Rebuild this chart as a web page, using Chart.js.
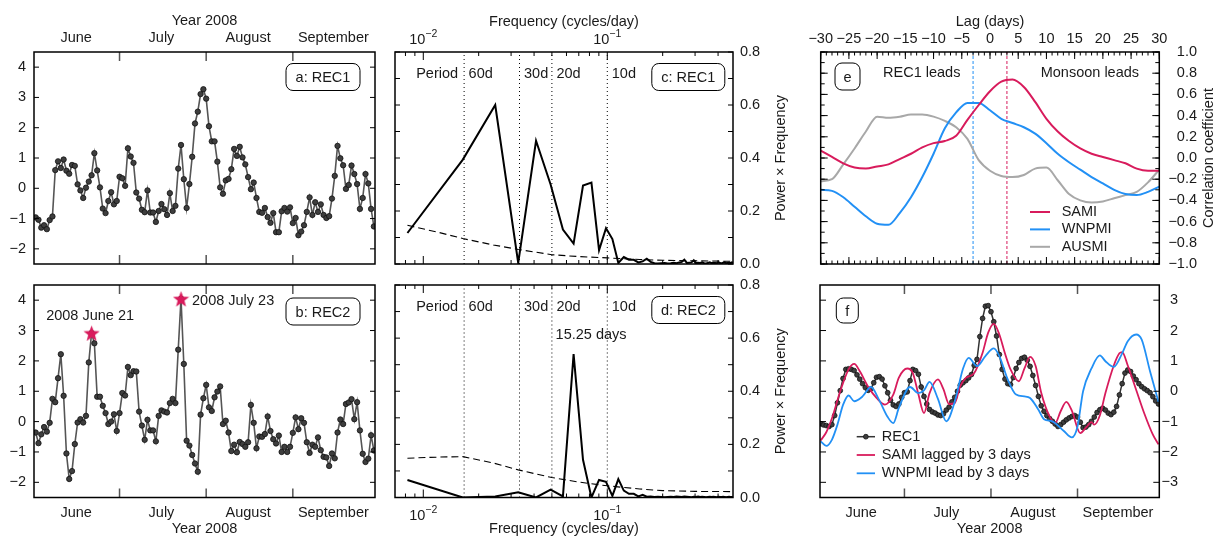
<!DOCTYPE html>
<html>
<head>
<meta charset="utf-8">
<script src="https://cdn.jsdelivr.net/npm/chart.js@4.4.0/dist/chart.umd.min.js"></script>
<style>
  body { margin: 0; background: #fff; width: 1213px; height: 538px; position: relative; overflow: hidden; }
  canvas { position: absolute; }
</style>
</head>
<body>
<canvas id="pa" style="left:0;top:0" width="400" height="272"></canvas>
<canvas id="pb" style="left:0;top:270px" width="400" height="268"></canvas>
<canvas id="pc" style="left:385px;top:0" width="420" height="274"></canvas>
<canvas id="pd" style="left:385px;top:270px" width="420" height="268"></canvas>
<canvas id="pe" style="left:800px;top:0" width="413" height="274"></canvas>
<canvas id="pf" style="left:800px;top:270px" width="413" height="268"></canvas>
<script>
// ---- data ----
// day index 0 = 2008 June 1
const monthNames = ['June', 'July', 'August', 'September'];
const monthMid = [14.5, 45, 76, 106.5];
const monthStart = [30, 61, 92];
const days = Array.from({ length: 122 }, (_, i) => i);

const recA = [-0.96,-1.04,-1.30,-1.22,-1.35,-1.05,-0.93,0.60,0.89,0.67,0.95,0.58,0.48,0.77,0.74,0.13,-0.07,-0.32,0.02,0.22,
  0.43,1.16,0.59,0.03,-0.67,-0.82,-0.42,-0.13,-0.53,-0.42,0.38,0.33,0.08,1.32,1.05,0.84,-0.14,-0.34,-0.71,-0.79,
  -0.07,-0.80,-0.80,-1.11,-0.75,-0.52,-0.69,-0.88,-0.16,-0.75,-0.58,0.65,1.43,0.30,-0.65,0.14,1.04,2.14,2.53,3.11,
  3.27,2.96,2.05,1.55,1.55,0.88,0.03,-0.18,0.26,0.31,0.63,1.30,1.07,1.37,1.02,0.79,0.37,-0.03,0.19,-0.32,
  -0.78,-0.81,-0.65,-0.95,-1.14,-0.82,-1.45,-1.45,-0.76,-0.65,-0.77,-0.63,-1.15,-0.98,-1.55,-1.43,-1.22,-0.78,-0.30,-0.88,
  -0.46,-0.78,-0.53,-0.88,-0.98,-0.92,-0.34,0.41,1.40,0.99,0.76,-0.02,0.11,0.75,0.47,0.14,-0.68,-0.32,0.47,0.16,
  -0.68,-1.26];

const recB = [-0.36,-0.71,-0.42,-0.18,-0.33,-0.04,0.75,0.64,1.43,2.22,0.85,-1.05,-1.89,-1.63,-0.74,-0.03,0.08,-0.03,0.19,1.95,
  2.92,2.58,0.82,0.82,0.52,0.28,-0.08,0.00,0.24,-0.31,0.28,0.94,0.86,1.80,1.53,1.66,1.65,0.33,-0.13,-0.60,
  0.06,-0.29,-0.29,-0.65,0.19,0.37,0.33,0.30,0.61,0.75,0.61,2.37,4.05,1.90,-0.63,-0.79,-1.10,-1.38,-1.65,0.23,
  0.77,1.21,0.47,0.35,0.80,0.99,1.16,-0.08,0.03,-0.36,-0.97,-0.76,-1.01,-0.67,-0.74,-0.83,-0.68,0.55,-0.04,-0.88,
  -0.49,-0.50,-0.41,0.17,-0.31,-0.58,-0.72,-0.46,-1.00,-0.83,-1.00,-0.83,-0.37,0.14,-0.25,0.11,-0.04,-0.68,-1.03,-0.76,
  -0.83,-0.52,-0.94,-1.16,-1.18,-1.46,-1.05,-1.21,-0.36,0.07,-0.08,0.58,0.63,0.74,0.08,0.64,-0.29,-1.06,-1.33,-1.22,
  -0.45,-0.95];
const starDays = [20, 52];
const starVals = [2.92, 4.05];
const starNotes = ['2008 June 21', '2008 July 23'];

// spectra: frequencies k/122 (cycles/day)
const freqs = [0.0082,0.0164,0.0246,0.0328,0.0410,0.0492,0.0574,0.0656,0.0738,0.0820,0.0902,0.0984,0.1066,0.1148,0.1230,
  0.1311,0.1393,0.1475,0.1557,0.1639,0.1721,0.1803,0.1885,0.1967,0.2049,0.2131,0.2213,0.2295,0.2377,0.2459,
  0.2541,0.2623,0.2705,0.2787,0.2869,0.2951,0.3033,0.3115,0.3197,0.3279,0.3361,0.3443,0.3525,0.3607,0.3689,
  0.3770,0.3852,0.3934,0.4016,0.4098,0.4180,0.4262,0.4344,0.4426,0.4508,0.4590,0.4672,0.4754,0.4836,0.4918,0.5000];
const powC = [0.117,0.394,0.600,0.004,0.465,0.300,0.130,0.077,0.296,0.307,
  0.052,0.135,0.094,0.004,0.026,0.016,0.016,0.006,0.010,0.020,
  0.008,0.003,0.002,0.003,0.004,0.002,0.003,0.005,0.003,0.006,
  0.008,0.016,0.004,0.005,0.006,0.014,0.003,0.005,0.004,0.006,
  0.003,0.002,0.004,0.006,0.003,0.005,0.004,0.003,0.006,0.004,
  0.002,0.005,0.006,0.003,0.004,0.005,0.003,0.006,0.004,0.005,0.003];
const powD = [0.066,0.000,0.004,0.020,0.000,0.030,0.004,0.540,0.142,0.000,
  0.066,0.059,0.006,0.069,0.026,0.014,0.014,0.004,0.010,0.003,
  0.004,0.002,0.003,0.002,0.001,0.002,0.003,0.002,0.004,0.003,
  0.002,0.004,0.003,0.002,0.001,0.003,0.002,0.004,0.002,0.003,
  0.002,0.001,0.002,0.003,0.002,0.003,0.002,0.001,0.003,0.002,
  0.002,0.003,0.002,0.001,0.002,0.003,0.002,0.002,0.001,0.002,0.003];
const noiseFreq = [0.0082,0.012,0.0164,0.024,0.0328,0.05,0.07,0.1,0.15,0.2,0.3,0.5];
const noiseC = [0.146,0.120,0.096,0.072,0.055,0.035,0.028,0.023,0.017,0.014,0.012,0.010];
const noiseD = [0.148,0.152,0.154,0.130,0.104,0.075,0.058,0.044,0.032,0.026,0.023,0.022];
const periods = [60, 30, 20, 10];
const periodNames = ['60d', '30d', '20d', '10d'];

// lag correlations
const lags = [-30,-28,-26,-24,-22,-20,-18,-16,-14,-12,-10,-8,-6,-4,-2,0,2,4,6,8,10,12,14,16,18,20,22,24,26,28,30];
const sami  = [0.07,0.01,-0.05,-0.09,-0.10,-0.08,-0.06,-0.01,0.04,0.10,0.14,0.16,0.21,0.36,0.50,0.63,0.72,0.74,0.67,0.53,
  0.37,0.25,0.16,0.09,0.04,0.01,-0.02,-0.05,-0.10,-0.12,-0.12];
const wnpmi = [-0.30,-0.31,-0.37,-0.46,-0.55,-0.62,-0.63,-0.52,-0.37,-0.18,0.04,0.28,0.43,0.52,0.52,0.45,0.37,0.33,0.29,0.23,
  0.14,0.04,-0.04,-0.11,-0.18,-0.24,-0.30,-0.34,-0.35,-0.32,-0.27];
const ausmi = [-0.22,-0.20,-0.06,0.09,0.25,0.39,0.38,0.39,0.41,0.41,0.39,0.35,0.29,0.18,-0.02,-0.12,-0.17,-0.18,-0.16,-0.10,
  -0.09,-0.21,-0.34,-0.40,-0.42,-0.41,-0.38,-0.35,-0.32,-0.23,-0.11];
const bestLags = [-3, 3];

// smoothed series
const recF = [-1.07,-1.11,-1.13,-1.16,-1.10,-0.80,-0.38,0.02,0.42,0.72,
  0.74,0.72,0.68,0.54,0.40,0.25,0.12,0.03,0.08,0.28,
  0.46,0.48,0.40,0.18,-0.05,-0.30,-0.45,-0.50,-0.42,-0.20,
  -0.05,-0.02,0.35,0.72,0.68,0.56,0.14,-0.17,-0.42,-0.60,
  -0.68,-0.72,-0.78,-0.80,-0.74,-0.62,-0.52,-0.35,-0.20,0.00,
  0.20,0.28,0.35,0.44,0.55,0.85,1.05,1.80,2.40,2.80,
  2.82,2.62,2.29,1.82,1.21,0.72,0.40,0.25,0.22,0.45,
  0.75,0.95,1.08,1.12,1.02,0.82,0.52,0.19,-0.17,-0.48,
  -0.66,-0.80,-0.90,-0.99,-1.08,-1.16,-1.10,-1.02,-0.94,-0.88,
  -0.83,-0.80,-0.85,-1.02,-1.20,-1.18,-1.10,-0.99,-0.85,-0.70,
  -0.61,-0.56,-0.62,-0.72,-0.77,-0.69,-0.50,-0.12,0.25,0.60,
  0.70,0.65,0.50,0.38,0.25,0.15,0.08,0.02,-0.05,-0.18,
  -0.32,-0.42];
const samiDaysF = [0,2,4,7,10,12,14,17,20,23,26,28,31,33,35,37,39,42,44,46,48,50,52,55,58,60,62,64,66,68,71,73,75,77,79,82,84,86,88,90,93,95,97,98,100,102,105,107,108,110,113,116,119,121];
const samiF = [-1.62,-1.35,-0.90,0.00,0.72,0.90,0.66,0.15,-0.22,-0.44,-0.11,0.45,0.75,0.60,-0.10,-0.72,-0.06,0.39,0.06,-0.42,-0.39,0.17,0.44,0.60,1.27,1.93,2.22,1.87,1.25,0.72,0.33,0.75,1.13,0.83,-0.05,-0.83,-1.05,-0.65,-0.35,-0.65,-1.38,-1.20,-1.02,-1.10,-0.80,-0.06,0.85,1.25,1.29,0.85,0.05,-0.75,-1.43,-1.75];
const wnpmiDaysF = [0,2,4,6,8,10,12,15,18,21,24,26,28,32,35,37,39,42,45,48,51,53,56,59,62,64,67,70,73,75,78,80,83,87,90,92,94,97,100,102,105,108,110,113,115,118,121];
const wnpmiF = [-1.65,-1.80,-1.60,-1.10,-0.45,-0.14,-0.33,-0.17,0.14,-0.30,-0.85,-1.05,-0.55,0.14,-0.06,0.03,0.31,-0.25,-0.99,-0.35,0.75,1.10,0.83,1.16,1.41,1.16,0.39,-0.11,-0.17,-0.22,-0.61,-0.92,-0.99,-1.30,-1.52,-1.16,0.00,0.75,1.18,0.99,0.80,1.25,1.65,1.87,1.70,0.65,-0.35];

// ---- style ----
const FONT = "'Liberation Sans', Arial, Helvetica, sans-serif";
const RED = '#d81b5c';
const BLUE = '#2290f5';
const GRAY = '#a8a8a8';
Chart.defaults.font.family = FONT;
Chart.defaults.font.size = 14.5;
Chart.defaults.color = '#1a1a1a';
Chart.defaults.animation = false;
Chart.defaults.responsive = false;
Chart.defaults.events = [];
Chart.defaults.plugins.legend.display = false;
Chart.defaults.plugins.tooltip.enabled = false;

function fmt(v, n) {
  return (v < -1e-9 ? '\u2212' : '') + Math.abs(v).toFixed(n);
}
// fixed axis thickness; drop the label overhang padding so the plot box stays put
function fixSize(px) {
  return s => {
    if (s.isHorizontal()) s.height = px; else s.width = px;
    s.paddingTop = s.paddingBottom = s.paddingLeft = s.paddingRight = 0;
  };
}
function setTicks(vals) {
  return s => { s.ticks = vals.map(v => ({ value: v })); };
}
function xy(xs, ys) {
  return xs.map((x, i) => ({ x: x, y: ys[i] }));
}
function range(a, b, step) {
  const out = [];
  for (let v = a; v <= b + 1e-9; v += step) out.push(Math.round(v * 1000) / 1000);
  return out;
}
function makeStar(size, color) {
  const c = document.createElement('canvas');
  c.width = size; c.height = size;
  const g = c.getContext('2d');
  const R = size / 2, r = R * 0.42;
  g.beginPath();
  for (let i = 0; i < 10; i++) {
    const ang = -Math.PI / 2 + i * Math.PI / 5;
    const rad = i % 2 ? r : R;
    g.lineTo(R + rad * Math.cos(ang), R + 1 + rad * Math.sin(ang));
  }
  g.closePath();
  g.fillStyle = color;
  g.fill();
  return c;
}
function roundBox(ctx, x, y, w, h, r) {
  ctx.beginPath();
  ctx.moveTo(x + r, y);
  ctx.arcTo(x + w, y, x + w, y + h, r);
  ctx.arcTo(x + w, y + h, x, y + h, r);
  ctx.arcTo(x, y + h, x, y, r);
  ctx.arcTo(x, y, x + w, y, r);
  ctx.closePath();
}

// frame, inward ticks, annotations, legends
const deco = {
  id: 'deco',
  afterDatasetsDraw(chart, args, o) {
    const ctx = chart.ctx, a = chart.chartArea;
    const sx = chart.scales.x, sy = chart.scales.y;
    ctx.save();
    (o.ticks || []).forEach(t => {
      const sc = chart.scales[t.axis];
      ctx.strokeStyle = t.color || '#000';
      ctx.lineWidth = t.width || 1;
      ctx.beginPath();
      t.values.forEach(v => {
        const p = sc.getPixelForValue(v);
        if (t.axis === 'x') {
          ctx.moveTo(p, a.top); ctx.lineTo(p, a.top + t.len);
          ctx.moveTo(p, a.bottom); ctx.lineTo(p, a.bottom - t.len);
        } else {
          ctx.moveTo(a.left, p); ctx.lineTo(a.left + t.len, p);
          ctx.moveTo(a.right, p); ctx.lineTo(a.right - t.len, p);
        }
      });
      ctx.stroke();
    });
    ctx.strokeStyle = '#000';
    ctx.lineWidth = 1.5;
    ctx.strokeRect(a.left, a.top, a.right - a.left, a.bottom - a.top);

    ctx.fillStyle = '#1a1a1a';
    ctx.font = '14.5px ' + FONT;
    ctx.textBaseline = 'middle';
    (o.texts || []).forEach(t => {
      ctx.textAlign = t.align || 'left';
      ctx.fillText(t.text, sx.getPixelForValue(t.x) + (t.dx || 0), sy.getPixelForValue(t.y) + (t.dy || 0));
    });
    (o.boxes || []).forEach(b => {
      roundBox(ctx, b.cx - b.w / 2, b.cy - b.h / 2, b.w, b.h, 7);
      ctx.lineWidth = 1;
      ctx.strokeStyle = '#000';
      ctx.stroke();
      ctx.textAlign = 'center';
      ctx.fillText(b.text, b.cx, b.cy + 1);
    });
    if (o.legend) {
      const L = o.legend;
      L.items.forEach((idx, i) => {
        const ds = chart.data.datasets[idx];
        const y = L.y + i * L.dy;
        ctx.strokeStyle = ds.borderColor;
        ctx.lineWidth = ds.borderWidth;
        ctx.beginPath();
        ctx.moveTo(L.x, y); ctx.lineTo(L.x + L.len, y);
        ctx.stroke();
        if (ds.pointRadius) {
          ctx.beginPath();
          ctx.arc(L.x + L.len / 2, y, ds.pointRadius, 0, Math.PI * 2);
          ctx.fillStyle = ds.pointBackgroundColor;
          ctx.fill();
          ctx.lineWidth = ds.pointBorderWidth;
          ctx.strokeStyle = ds.pointBorderColor;
          ctx.stroke();
        }
        ctx.fillStyle = '#1a1a1a';
        ctx.textAlign = 'left';
        ctx.fillText(ds.label, L.x + L.len + L.gap, y);
      });
    }
    if (o.vtitle) {
      ctx.save();
      ctx.translate(o.vtitle.x, (a.top + a.bottom) / 2);
      ctx.rotate(-Math.PI / 2);
      ctx.textAlign = 'center';
      ctx.fillText(o.vtitle.text, 0, 0);
      ctx.restore();
    }
    if (o.logLabels) {
      const g = o.logLabels;
      g.values.forEach((v, i) => {
        const p = sx.getPixelForValue(v);
        ctx.font = '14.5px ' + FONT;
        const w1 = ctx.measureText('10').width;
        ctx.font = '10.5px ' + FONT;
        const w2 = ctx.measureText(g.sups[i]).width;
        const x0 = p - (w1 + w2) / 2;
        ctx.textAlign = 'left';
        ctx.font = '14.5px ' + FONT;
        ctx.fillText('10', x0, g.y);
        ctx.font = '10.5px ' + FONT;
        ctx.fillText(g.sups[i], x0 + w1, g.y - 6);
      });
    }
    ctx.restore();
  }
};

const noGrid = { display: false, drawTicks: false };
const noBorder = { display: false };
const recStyle = {
  borderColor: '#555', borderWidth: 1.6, pointRadius: 2.7,
  pointBackgroundColor: '#3e3e3e', pointBorderColor: '#111', pointBorderWidth: 0.8, tension: 0
};
const recTicks = [
  { axis: 'x', values: monthStart, len: 9, color: '#555', width: 1.5 },
  { axis: 'y', values: range(-2, 4, 1), len: 5 }
];

// ---- panel a ----
new Chart(document.getElementById('pa'), {
  type: 'line',
  data: { datasets: [Object.assign({ label: 'REC1', data: xy(days, recA) }, recStyle)] },
  options: {
    layout: { padding: { right: 25, bottom: 8 } },
    scales: {
      x: {
        type: 'linear', position: 'top', min: -0.6, max: 121.4,
        afterFit: fixSize(52), afterBuildTicks: setTicks(monthMid),
        grid: noGrid, border: noBorder,
        ticks: { padding: 5, maxRotation: 0, autoSkip: false, callback: (v, i) => monthNames[i] },
        title: { display: true, text: 'Year 2008', padding: { top: 12, bottom: 0 } }
      },
      y: {
        min: -2.5, max: 4.5, afterFit: fixSize(34), afterBuildTicks: setTicks(range(-2, 4, 1)),
        grid: noGrid, border: noBorder,
        ticks: { padding: 8, callback: v => fmt(v, 0) }
      }
    },
    plugins: {
      deco: { ticks: recTicks, boxes: [{ text: 'a: REC1', cx: 323, cy: 77, w: 74, h: 27 }] }
    }
  },
  plugins: [deco]
});

// ---- panel b ----
new Chart(document.getElementById('pb'), {
  type: 'line',
  data: {
    datasets: [
      Object.assign({ label: 'REC2', data: xy(days, recB), order: 1 }, recStyle),
      { label: 'peaks', data: xy(starDays, starVals), showLine: false, order: 0,
        pointStyle: makeStar(17, RED), pointRadius: 8 }
    ]
  },
  options: {
    layout: { padding: { right: 25, top: 15 } },
    scales: {
      x: {
        type: 'linear', position: 'bottom', min: -0.6, max: 121.4,
        afterFit: fixSize(40.5), afterBuildTicks: setTicks(monthMid),
        grid: noGrid, border: noBorder,
        ticks: { padding: 6.8, maxRotation: 0, autoSkip: false, callback: (v, i) => monthNames[i] },
        title: { display: true, text: 'Year 2008', padding: { top: 0, bottom: 0.3 } }
      },
      y: {
        min: -2.5, max: 4.5, afterFit: fixSize(34), afterBuildTicks: setTicks(range(-2, 4, 1)),
        grid: noGrid, border: noBorder,
        ticks: { padding: 8, callback: v => fmt(v, 0) }
      }
    },
    plugins: {
      deco: {
        ticks: recTicks,
        boxes: [{ text: 'b: REC2', cx: 323, cy: 41.5, w: 74, h: 27 }],
        texts: [
          { text: starNotes[0], x: starDays[0], y: starVals[0], align: 'center', dx: -1.5, dy: -17 },
          { text: starNotes[1], x: starDays[1], y: starVals[1], align: 'left', dx: 11, dy: 2 }
        ]
      }
    }
  },
  plugins: [deco]
});

// ---- panels c, d ----
const logMin = 0.007018, logMax = 0.4822;
const logTickMarks = [
  { axis: 'x', values: [0.01, 0.1], len: 8 },
  { axis: 'x', values: [0.008, 0.009, 0.02, 0.03, 0.04, 0.05, 0.06, 0.07, 0.08, 0.09, 0.2, 0.3, 0.4], len: 4 },
  { axis: 'y', values: range(0, 0.8, 0.1), len: 5 }
];
function periodSets() {
  return periods.map(p => ({
    data: [{ x: 1 / p, y: 0 }, { x: 1 / p, y: 0.8 }],
    borderColor: '#000', borderWidth: 1, borderDash: [1, 3], pointRadius: 0
  }));
}
function periodTexts() {
  const t = [{ text: 'Period', x: 1 / periods[0], y: 0.717, align: 'right', dx: -6 }];
  periods.forEach((p, i) => t.push({ text: periodNames[i], x: 1 / p, y: 0.717, align: 'left', dx: 4.5 }));
  return t;
}
function spectrumChart(id, pow, noise, top, label, extraTexts, boxCy) {
  const xAxis = {
    type: 'logarithmic', position: top ? 'top' : 'bottom', min: logMin, max: logMax,
    afterFit: fixSize(top ? 52 : 40.5), afterBuildTicks: setTicks([0.01, 0.1]),
    grid: noGrid, border: noBorder, ticks: { display: false },
    title: { display: true, text: 'Frequency (cycles/day)', padding: top ? { top: 13, bottom: 0 } : { top: 0, bottom: 0 } }
  };
  return new Chart(document.getElementById(id), {
    type: 'line',
    data: {
      datasets: [
        { data: xy(freqs, pow), borderColor: '#000', borderWidth: 2, pointRadius: 0, tension: 0 },
        { data: xy(noiseFreq, noise), borderColor: '#000', borderWidth: 1.1, borderDash: [7, 4], pointRadius: 0, tension: 0 }
      ].concat(periodSets())
    },
    options: {
      layout: { padding: top ? { left: 10, bottom: 10 } : { left: 10, top: 15 } },
      scales: {
        x: xAxis,
        y: {
          position: 'right', min: 0, max: 0.8, afterFit: fixSize(72), afterBuildTicks: setTicks(range(0, 0.8, 0.2)),
          grid: noGrid, border: noBorder,
          ticks: { padding: 7, callback: v => fmt(v, 1) }
        }
      },
      plugins: {
        deco: {
          ticks: logTickMarks,
          texts: periodTexts().concat(extraTexts),
          boxes: [{ text: label, cx: 303.3, cy: boxCy, w: 73, h: 27 }],
          vtitle: { text: 'Power \u00d7 Frequency', x: 396 },
          logLabels: { values: [0.01, 0.1], sups: ['\u22122', '\u22121'], y: top ? 40 : 246 }
        }
      }
    },
    plugins: [deco]
  });
}
spectrumChart('pc', powC, noiseC, true, 'c: REC1', [], 77);
spectrumChart('pd', powD, noiseD, false, 'd: REC2',
  [{ text: '15.25 days', x: freqs[7], y: 0.612, align: 'left', dx: -18 }], 40);

// ---- panel e ----
new Chart(document.getElementById('pe'), {
  type: 'line',
  data: {
    datasets: [
      { label: 'SAMI', data: xy(lags, sami), borderColor: RED, borderWidth: 2, pointRadius: 0, cubicInterpolationMode: 'monotone' },
      { label: 'WNPMI', data: xy(lags, wnpmi), borderColor: BLUE, borderWidth: 2, pointRadius: 0, cubicInterpolationMode: 'monotone' },
      { label: 'AUSMI', data: xy(lags, ausmi), borderColor: GRAY, borderWidth: 2, pointRadius: 0, cubicInterpolationMode: 'monotone' },
      { data: [{ x: bestLags[0], y: -1 }, { x: bestLags[0], y: 1 }], borderColor: BLUE, borderWidth: 1, borderDash: [3, 2], pointRadius: 0 },
      { data: [{ x: bestLags[1], y: -1 }, { x: bestLags[1], y: 1 }], borderColor: RED, borderWidth: 1, borderDash: [3, 2], pointRadius: 0 }
    ]
  },
  options: {
    layout: { padding: { left: 20.7, bottom: 10, right: 16 } },
    scales: {
      x: {
        type: 'linear', position: 'top', min: -30, max: 30,
        afterFit: fixSize(52), afterBuildTicks: setTicks(range(-30, 30, 5)),
        grid: noGrid, border: noBorder,
        ticks: { padding: 4.3, maxRotation: 0, autoSkip: false, callback: v => fmt(v, 0) },
        title: { display: true, text: 'Lag (days)', padding: { top: 13, bottom: 0 } }
      },
      y: {
        position: 'right', min: -1, max: 1, afterFit: fixSize(37.7), afterBuildTicks: setTicks(range(-1, 1, 0.2)),
        grid: noGrid, border: noBorder,
        ticks: { padding: 8.7, crossAlign: 'far', callback: v => fmt(v, 1) }
      }
    },
    plugins: {
      deco: {
        ticks: [
          { axis: 'x', values: range(-30, 30, 1), len: 3.5 },
          { axis: 'x', values: range(-30, 30, 5), len: 7 },
          { axis: 'y', values: range(-1, 1, 0.1), len: 4 },
          { axis: 'y', values: range(-1, 1, 0.2), len: 7 }
        ],
        texts: [
          { text: 'REC1 leads', x: -12.1, y: 0.8, align: 'center' },
          { text: 'Monsoon leads', x: 17.7, y: 0.8, align: 'center' }
        ],
        boxes: [{ text: 'e', cx: 47.5, cy: 76.5, w: 25, h: 27 }],
        legend: { x: 230, y: 212, dy: 17.4, len: 20, gap: 11.7, items: [0, 1, 2] },
        vtitle: { text: 'Correlation coefficient', x: 409 }
      }
    }
  },
  plugins: [deco]
});

// ---- panel f ----
new Chart(document.getElementById('pf'), {
  type: 'line',
  data: {
    datasets: [
      { label: 'REC1', data: xy(days, recF), order: 3, borderColor: '#333', borderWidth: 1.5, pointRadius: 2.4,
        pointBackgroundColor: '#3e3e3e', pointBorderColor: '#111', pointBorderWidth: 0.8, tension: 0 },
      { label: 'SAMI lagged by 3 days', data: xy(samiDaysF, samiF), order: 2, borderColor: RED, borderWidth: 1.8,
        pointRadius: 0, cubicInterpolationMode: 'monotone' },
      { label: 'WNPMI lead by 3 days', data: xy(wnpmiDaysF, wnpmiF), order: 1, borderColor: BLUE, borderWidth: 1.8,
        pointRadius: 0, cubicInterpolationMode: 'monotone' }
    ]
  },
  options: {
    layout: { padding: { left: 20, top: 15, right: 35 } },
    scales: {
      x: {
        type: 'linear', position: 'bottom', min: -0.25, max: 121.3,
        afterFit: fixSize(40.5), afterBuildTicks: setTicks(monthMid),
        grid: noGrid, border: noBorder,
        ticks: { padding: 6.8, maxRotation: 0, autoSkip: false, callback: (v, i) => monthNames[i] },
        title: { display: true, text: 'Year 2008', padding: { top: 0, bottom: 0.3 } }
      },
      y: {
        position: 'right', min: -3.5, max: 3.5, afterFit: fixSize(18.7), afterBuildTicks: setTicks(range(-3, 3, 1)),
        grid: noGrid, border: noBorder,
        ticks: { padding: 4, crossAlign: 'far', callback: v => fmt(v, 0) }
      }
    },
    plugins: {
      deco: {
        ticks: [
          { axis: 'x', values: monthStart, len: 9, color: '#555', width: 1.5 },
          { axis: 'y', values: range(-3, 3, 1), len: 6 }
        ],
        boxes: [{ text: 'f', cx: 47.3, cy: 40.5, w: 22, h: 25 }],
        legend: { x: 56.7, y: 166.7, dy: 18.3, len: 18.3, gap: 6.7, items: [0, 1, 2] }
      }
    }
  },
  plugins: [deco]
});
</script>
</body>
</html>
